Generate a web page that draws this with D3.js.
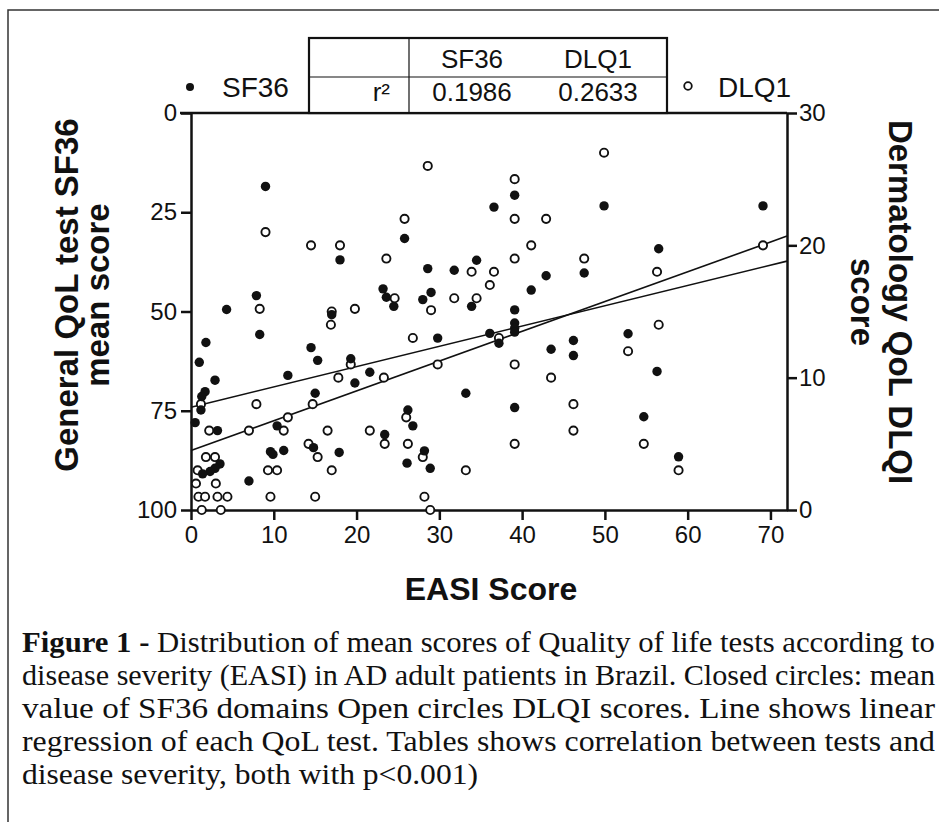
<!DOCTYPE html>
<html>
<head>
<meta charset="utf-8">
<script src="https://cdnjs.cloudflare.com/ajax/libs/d3/7.8.5/d3.min.js"></script>
<style>
    body { margin: 0; background: #fff; }
    text { font-family: "Liberation Sans", Arial, sans-serif; fill: #111; }
</style>
</head>
<body>
<div id="chart"></div>
<script>
// EASI score and mean SF36 score (closed circles)
const sf36Easi  = [9.0, 18.0, 23.2, 23.6, 7.9, 4.3, 39.1, 36.6, 25.8, 28.6, 31.8, 34.5, 42.9, 41.1, 24.5, 28.0, 29.0, 33.9, 39.1,
                   49.9, 69.1, 47.5, 56.5, 17.0, 8.3, 1.8, 1.0, 14.5, 15.3, 19.3, 21.6, 19.8, 2.9, 11.7, 1.7, 1.3, 1.2, 15.0,
                   0.5, 10.4, 3.2, 23.4, 14.8, 9.6, 9.9, 11.2, 17.9, 3.5, 2.9, 2.3, 1.4, 7.0, 29.8, 36.1, 37.2, 39.1, 39.1,
                   39.1, 43.5, 46.2, 46.2, 33.2, 39.1, 26.2, 26.8, 28.2, 26.1, 28.9, 52.8, 56.3, 54.7, 58.9];
const sf36Score = [18.5, 37, 44.3, 46.4, 46, 49.5, 20.7, 23.7, 31.6, 39.2, 39.6, 37.1, 41, 44.6, 48.7, 47, 45.2, 48.7, 49.6,
                   23.4, 23.4, 40.3, 34.2, 50.8, 55.8, 57.8, 62.8, 59.1, 62.3, 61.9, 65.3, 68, 67.3, 66.1, 70.2, 71.4, 74.8, 70.6,
                   78, 78.8, 80, 81, 84.3, 85.3, 86, 85, 85.5, 88.4, 89.5, 90.3, 90.9, 92.7, 56.7, 55.5, 58, 52.9, 54.2,
                   55.2, 59.5, 57.3, 61.1, 70.6, 74.2, 74.8, 78.8, 85.1, 88.2, 89.5, 55.6, 65.1, 76.5, 86.6];

// EASI score and DLQI score (open circles)
const dlqiEasi  = [9.0, 14.5, 18.0, 23.6, 8.3, 17.0, 19.8, 28.6, 39.1, 25.8, 39.1, 42.9, 41.1, 39.1, 33.9, 36.6, 36.1, 24.6,
                   29.0, 31.8, 34.5, 49.9, 69.1, 47.5, 56.3, 16.9, 19.3, 17.8, 23.3, 1.2, 7.9, 14.7, 11.7, 11.2, 2.2, 7.0,
                   16.5, 21.6, 23.4, 14.2, 15.3, 1.8, 2.9, 0.8, 9.3, 10.4, 17.0, 0.6, 3.0, 0.9, 1.7, 3.2, 4.4, 9.6, 15.0,
                   1.3, 3.6, 26.8, 37.2, 29.8, 39.1, 43.5, 46.2, 46.2, 39.1, 26.0, 26.2, 28.0, 33.2, 28.2, 28.9, 52.8, 56.5,
                   54.7, 58.9];
const dlqiScore = [21, 20, 20, 19, 15.2, 15, 15.2, 26, 25, 22, 22, 22, 20, 19, 18, 18, 17, 16,
                   15.1, 16, 16, 27, 20, 19, 18, 14, 11, 10, 10, 8, 8, 8, 7, 6, 6, 6,
                   6, 6, 5, 5, 4, 4, 4, 3, 3, 3, 3, 2, 2, 1, 1, 1, 1, 1, 1,
                   0, 0, 13, 13, 11, 11, 10, 8, 6, 5, 7, 5, 4, 3, 1, 0, 12, 14,
                   5, 3];

// linear regression of each test
const fitNames     = ["SF36", "DLQ1"];
const fitIntercept = [74.1, 4.5];
const fitSlope     = [-0.511, 0.225];
const rSquared     = ["0.1986", "0.2633"];

// axis ticks
const easiTicks = [0, 10, 20, 30, 40, 50, 60, 70];
const sf36Ticks = [0, 25, 50, 75, 100];
const dlqiTicks = [0, 10, 20, 30];

const captionLines = [
    ["Figure 1 - ", "Distribution of mean scores of Quality of life tests according to"],
    ["", "disease severity (EASI) in AD adult patients in Brazil. Closed circles: mean"],
    ["", "value of SF36 domains Open circles DLQI scores. Line shows linear"],
    ["", "regression of each QoL test. Tables shows correlation between tests and"],
    ["", "disease severity, both with p<0.001)"]
];

const W = 939, H = 822;
const margin = { top: 113, right: 152, bottom: 312, left: 191 };
const width = W - margin.left - margin.right;
const height = H - margin.top - margin.bottom;

const svg = d3.select("#chart").append("svg")
    .attr("width", W)
    .attr("height", H);

svg.append("rect").attr("width", W).attr("height", H).attr("fill", "#fff");

// figure frame
svg.append("rect")
    .attr("x", 8).attr("y", 10)
    .attr("width", W + 10).attr("height", H + 10)
    .attr("fill", "none")
    .attr("stroke", "#333")
    .attr("stroke-width", 1.5);

const g = svg.append("g")
    .attr("transform", "translate(" + margin.left + "," + margin.top + ")");

// scales
const x = d3.scaleLinear().domain([0, 72]).range([0, width]);
const yL = d3.scaleLinear().domain([0, 100]).range([0, height]);
const yR = d3.scaleLinear().domain([0, 30]).range([height, 0]);

// axes
const xAxis = g.append("g")
    .attr("transform", "translate(0," + height + ")")
    .call(d3.axisBottom(x).tickValues(easiTicks).tickSize(10).tickPadding(6).tickSizeOuter(0));

const yAxisL = g.append("g")
    .call(d3.axisLeft(yL).tickValues(sf36Ticks).tickSize(10).tickPadding(4).tickSizeOuter(0));

const yAxisR = g.append("g")
    .attr("transform", "translate(" + width + ",0)")
    .call(d3.axisRight(yR).tickValues(dlqiTicks).tickSize(10).tickPadding(2).tickSizeOuter(0));

[xAxis, yAxisL, yAxisR].forEach(a => {
    a.selectAll("path, line").attr("stroke", "#111").attr("stroke-width", 2.5);
    a.selectAll("text")
        .attr("fill", "#111")
        .style("font-family", "'Liberation Sans', Arial, sans-serif")
        .style("font-size", "24px");
});

// top border of the plot box
g.append("line")
    .attr("x1", -11).attr("x2", width)
    .attr("y1", 0).attr("y2", 0)
    .attr("stroke", "#111").attr("stroke-width", 2.5);

// regression lines
fitNames.forEach((name, i) => {
    const toY = name === "SF36" ? yL : yR;
    g.append("line")
        .attr("x1", x(0)).attr("y1", toY(fitIntercept[i]))
        .attr("x2", x(72)).attr("y2", toY(fitIntercept[i] + fitSlope[i] * 72))
        .attr("stroke", "#111")
        .attr("stroke-width", 1.6);
});

// DLQI points: open circles
g.selectAll("circle.dlqi")
    .data(dlqiEasi.map((e, i) => ({ e: e, v: dlqiScore[i] })))
    .enter().append("circle")
    .attr("class", "dlqi")
    .attr("cx", d => x(d.e))
    .attr("cy", d => yR(d.v))
    .attr("r", 4.1)
    .attr("fill", "#fff")
    .attr("stroke", "#111")
    .attr("stroke-width", 1.9);

// SF36 points: closed circles
g.selectAll("circle.sf36")
    .data(sf36Easi.map((e, i) => ({ e: e, v: sf36Score[i] })))
    .enter().append("circle")
    .attr("class", "sf36")
    .attr("cx", d => x(d.e))
    .attr("cy", d => yL(d.v))
    .attr("r", 4.7)
    .attr("fill", "#111");

// axis titles
g.append("text")
    .attr("x", width / 2 + 2)
    .attr("y", height + 90)
    .attr("text-anchor", "middle")
    .style("font-size", "32px")
    .style("font-weight", "bold")
    .text("EASI Score");

const leftTitle = svg.append("text")
    .attr("transform", "translate(78,295) rotate(-90)")
    .attr("text-anchor", "middle")
    .style("font-size", "33px")
    .style("font-weight", "bold");
leftTitle.append("tspan").attr("x", 0).attr("y", 0).text("General QoL test SF36");
leftTitle.append("tspan").attr("x", 0).attr("y", 31).text("mean score");

const rightTitle = svg.append("text")
    .attr("transform", "translate(889,302) rotate(90)")
    .attr("text-anchor", "middle")
    .style("font-size", "33px")
    .style("font-weight", "bold");
rightTitle.append("tspan").attr("x", 0).attr("y", 0).text("Dermatology QoL DLQI");
rightTitle.append("tspan").attr("x", 0).attr("y", 38).text("score");

// legend
svg.append("circle").attr("cx", 190).attr("cy", 87).attr("r", 4).attr("fill", "#111");
svg.append("text").attr("x", 222).attr("y", 97).style("font-size", "28px").text(fitNames[0]);
svg.append("circle").attr("cx", 688).attr("cy", 86).attr("r", 3.8)
    .attr("fill", "#fff").attr("stroke", "#111").attr("stroke-width", 1.8);
svg.append("text").attr("x", 718).attr("y", 97).style("font-size", "28px").text(fitNames[1]);

// r² table
const table = svg.append("g");
table.append("rect")
    .attr("x", 309).attr("y", 38).attr("width", 358).attr("height", 75)
    .attr("fill", "#fff").attr("stroke", "#111").attr("stroke-width", 2.2);
table.append("line").attr("x1", 309).attr("x2", 667).attr("y1", 77).attr("y2", 77)
    .attr("stroke", "#111").attr("stroke-width", 1.2);
table.append("line").attr("x1", 409).attr("x2", 409).attr("y1", 38).attr("y2", 113)
    .attr("stroke", "#111").attr("stroke-width", 1.2);
const colX = [472, 598];
fitNames.forEach((name, i) => {
    table.append("text").attr("x", colX[i]).attr("y", 68)
        .attr("text-anchor", "middle").style("font-size", "26px").text(name);
    table.append("text").attr("x", colX[i]).attr("y", 101)
        .attr("text-anchor", "middle").style("font-size", "26px").text(rSquared[i]);
});
table.append("text").attr("x", 390).attr("y", 101)
    .attr("text-anchor", "end").style("font-size", "26px").text("r²");

// caption, justified like the journal page
const caption = svg.append("g");
captionLines.forEach((line, i) => {
    const t = caption.append("text")
        .attr("x", 22)
        .attr("y", 652 + i * 33)
        .style("font-family", "'Liberation Serif', 'Times New Roman', Times, serif")
        .style("font-size", "29px");
    if (i < captionLines.length - 1) {
        t.attr("textLength", 913).attr("lengthAdjust", "spacingAndGlyphs");
    } else {
        t.attr("textLength", 456).attr("lengthAdjust", "spacingAndGlyphs");
    }
    if (line[0]) t.append("tspan").style("font-weight", "bold").text(line[0]);
    t.append("tspan").text(line[1]);
});
</script>
</body>
</html>
